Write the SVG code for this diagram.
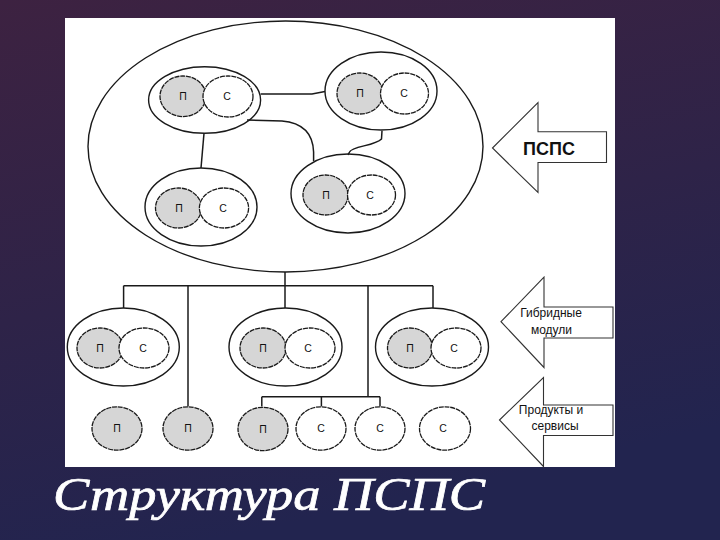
<svg xmlns="http://www.w3.org/2000/svg" width="720" height="540" viewBox="0 0 720 540">
<defs>
<linearGradient id="bg" x1="0" y1="0" x2="0.3" y2="1">
<stop offset="0" stop-color="#3d2241"/>
<stop offset="0.55" stop-color="#2e2348"/>
<stop offset="1" stop-color="#22244f"/>
</linearGradient>
<style>
.o{fill:none;stroke:#1a1a1a;stroke-width:1.4}
.p{fill:#d6d6d6;stroke:#1a1a1a;stroke-width:1.3;stroke-dasharray:5 0.8}
.c{fill:#ffffff;stroke:#1a1a1a;stroke-width:1.3;stroke-dasharray:5 0.8}
.l{fill:none;stroke:#1a1a1a;stroke-width:1.5}
.t{font-family:"Liberation Sans",Arial,sans-serif;font-size:10.5px;fill:#111;text-anchor:middle}
.ar{fill:#ffffff;stroke:#333;stroke-width:1.1}
.at{font-family:"Liberation Sans",Arial,sans-serif;font-size:12px;fill:#111;text-anchor:middle}
</style>
</defs>
<rect x="0" y="0" width="720" height="540" fill="url(#bg)"/>
<rect x="65" y="18" width="550" height="449" fill="#ffffff"/>

<g id="psps">
<ellipse class="o" cx="285.5" cy="146.5" rx="197.5" ry="125.5"/>
</g>

<g id="connectors">
<path class="l" d="M260.7 94 L312 94 L325 91.5"/>
<path class="l" d="M247 120 L282 121 C305 123 313 135 313.6 152 L313.6 161"/>
<path class="l" d="M382 130.7 L381.5 139 C375 146 352 146 349.5 152 L348 155"/>
<path class="l" d="M204 133.3 L201 168"/>
<path class="l" d="M285 272 L285 285.7"/>
<path class="l" d="M123.6 285.7 L433 285.7"/>
<path class="l" d="M123.6 285.7 L123.6 308"/>
<path class="l" d="M188 285.7 L188 406.5"/>
<path class="l" d="M285 285.7 L285 308"/>
<path class="l" d="M368 285.7 L368 396.7"/>
<path class="l" d="M433 285.7 L433 308"/>
<path class="l" d="M261.8 396.7 L380 396.7"/>
<path class="l" d="M261.8 396.7 L261.8 406.5"/>
<path class="l" d="M321.4 396.7 L321.4 406.5"/>
<path class="l" d="M380 396.7 L380 406.5"/>
</g>

<g id="hm-top-left">
<ellipse class="o" cx="204.6" cy="100" rx="56" ry="33.3"/>
<ellipse class="p" cx="183" cy="96.3" rx="23" ry="20.3"/>
<ellipse class="c" cx="228" cy="96.5" rx="25" ry="20.5"/>
<text class="t" x="183" y="100">П</text>
<text class="t" x="227" y="100">С</text>
</g>
<g id="hm-top-right">
<ellipse class="o" cx="381" cy="91" rx="56" ry="39"/>
<ellipse class="p" cx="360" cy="93.5" rx="23" ry="20.5"/>
<ellipse class="c" cx="404.5" cy="93.5" rx="24" ry="20.5"/>
<text class="t" x="360" y="97">П</text>
<text class="t" x="404" y="97">С</text>
</g>
<g id="hm-mid-left">
<ellipse class="o" cx="201" cy="207" rx="56" ry="39"/>
<ellipse class="p" cx="178.5" cy="208" rx="23" ry="20"/>
<ellipse class="c" cx="224" cy="208" rx="24.6" ry="20"/>
<text class="t" x="179" y="211.5">П</text>
<text class="t" x="223" y="211.5">С</text>
</g>
<g id="hm-mid-right">
<ellipse class="o" cx="348" cy="193.5" rx="57" ry="39.5"/>
<ellipse class="p" cx="325.5" cy="195" rx="22.5" ry="20"/>
<ellipse class="c" cx="371.5" cy="195" rx="24" ry="20"/>
<text class="t" x="326" y="198.5">П</text>
<text class="t" x="370" y="198.5">С</text>
</g>

<g id="hm-bottom-left">
<ellipse class="o" cx="123.3" cy="347" rx="56" ry="39"/>
<ellipse class="p" cx="100" cy="348" rx="23" ry="20"/>
<ellipse class="c" cx="144" cy="348" rx="25" ry="20"/>
<text class="t" x="100" y="351.5">П</text>
<text class="t" x="143" y="351.5">С</text>
</g>
<g id="hm-bottom-mid">
<ellipse class="o" cx="285.5" cy="347" rx="56.5" ry="39"/>
<ellipse class="p" cx="263" cy="348" rx="23" ry="20"/>
<ellipse class="c" cx="310" cy="348" rx="25" ry="20"/>
<text class="t" x="263" y="351.5">П</text>
<text class="t" x="308" y="351.5">С</text>
</g>
<g id="hm-bottom-right">
<ellipse class="o" cx="432" cy="347" rx="56.5" ry="39"/>
<ellipse class="p" cx="410" cy="348" rx="22.5" ry="20"/>
<ellipse class="c" cx="456" cy="348" rx="25" ry="20"/>
<text class="t" x="410" y="351.5">П</text>
<text class="t" x="454" y="351.5">С</text>
</g>

<g id="p1"><ellipse class="p" cx="117" cy="428.5" rx="25" ry="21.7"/><text class="t" x="117" y="432">П</text></g>
<g id="p2"><ellipse class="p" cx="188" cy="428.5" rx="25" ry="21.7"/><text class="t" x="188" y="432">П</text></g>
<g id="p3"><ellipse class="p" cx="263" cy="429" rx="25" ry="21.7"/><text class="t" x="263" y="432.5">П</text></g>
<g id="s1"><ellipse class="c" cx="321" cy="428.5" rx="25" ry="21.7"/><text class="t" x="321" y="432">С</text></g>
<g id="s2"><ellipse class="c" cx="380" cy="428.5" rx="25" ry="21.7"/><text class="t" x="380" y="432">С</text></g>
<g id="s3"><ellipse class="c" cx="445" cy="428.5" rx="25.5" ry="21.7"/><text class="t" x="443" y="432">С</text></g>

<g id="arrow-psps">
<path class="ar" d="M492.5 148 L538 102.5 L538 131.7 L606.5 131.7 L606.5 162.5 L538 162.5 L538 192.5 Z"/>
<text x="549" y="155" font-family="Liberation Sans,Arial,sans-serif" font-size="18" font-weight="bold" fill="#111" text-anchor="middle">ПСПС</text>
</g>
<g id="arrow-hybrid">
<path class="ar" d="M501 321.7 L544 277 L544 307 L613 307 L613 338 L544 338 L544 367.5 Z"/>
<text class="at" x="551" y="317">Гибридные</text>
<text class="at" x="551.5" y="333.5">модули</text>
</g>
<g id="arrow-products">
<path class="ar" d="M499.5 420 L543.5 377.5 L543.5 405 L613 405 L613 435.5 L543.5 435.5 L543.5 466.5 Z"/>
<text class="at" x="551" y="413.5">Продукты и</text>
<text class="at" x="555" y="430">сервисы</text>
</g>

<text x="53" y="510" font-family="Liberation Serif,Times New Roman,serif" font-style="italic" font-size="46" fill="#ffffff" stroke="#ffffff" stroke-width="0.7" textLength="432" lengthAdjust="spacingAndGlyphs">Структура ПСПС</text>
</svg>
